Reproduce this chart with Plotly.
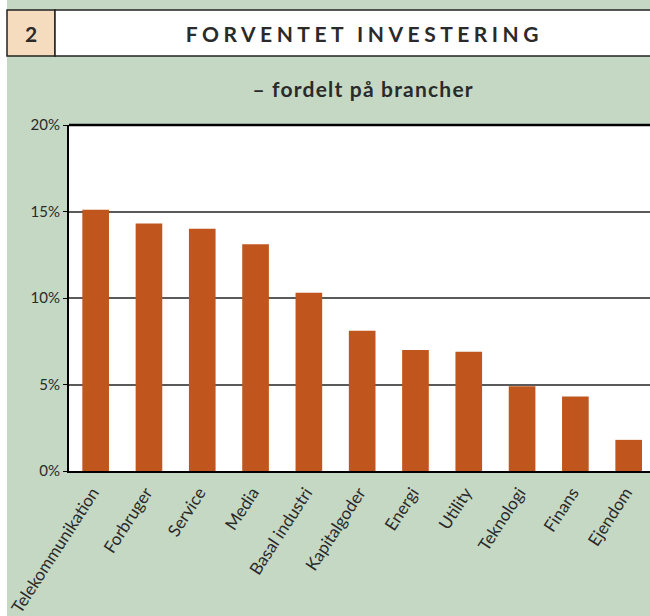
import plotly.graph_objects as go

categories = ["Telekommunikation", "Forbruger", "Service", "Media", "Basal industri",
              "Kapitalgoder", "Energi", "Utility", "Teknologi", "Finans", "Ejendom"]
values = [15.1, 14.3, 14.0, 13.1, 10.3, 8.1, 7.0, 6.9, 4.9, 4.3, 1.8]
y_ticks = [0, 5, 10, 15, 20]
y_ticklabels = ["0%", "5%", "10%", "15%", "20%"]

W, H = 650, 616
L, R, T, B = 69, 650, 125, 471  # plot area in pixels

def px(x):
    return (x - L) / (R - L)

def py(y):
    return (B - y) / (B - T)

FONT = "Lato, 'Open Sans', sans-serif"
GREEN = "#c5d8c4"

fig = go.Figure(go.Bar(
    x=categories, y=values, width=0.5,
    marker=dict(color="#c0561e", line=dict(width=0)),
))

shapes = [
    dict(type="rect", xref="paper", yref="paper", x0=px(-5), x1=px(7), y0=py(H + 5), y1=py(-5),
         fillcolor="white", line=dict(width=0), layer="below"),
    dict(type="rect", xref="paper", yref="paper", x0=px(7), x1=px(55), y0=py(56), y1=py(10),
         fillcolor="#f6dcbf", line=dict(color="#222", width=1.5)),
    dict(type="rect", xref="paper", yref="paper", x0=px(55), x1=px(660), y0=py(56), y1=py(10),
         fillcolor="white", line=dict(color="#222", width=1.5)),
    dict(type="line", xref="paper", yref="paper", x0=0, x1=1, y0=1, y1=1,
         line=dict(color="black", width=2.5)),
]

annotations = [
    dict(text="<b>2</b>", xref="paper", yref="paper", x=px(31), y=py(33),
         showarrow=False, font=dict(family=FONT, size=21, color="#2a2a2a"),
         xanchor="center", yanchor="middle"),
    dict(text="<b>FORVENTET INVESTERING</b>", xref="paper", yref="paper", x=px(364), y=py(33),
         showarrow=False, font=dict(family=FONT, size=21, color="#2a2a2a"),
         xanchor="center", yanchor="middle"),
    dict(text="<b>– fordelt på brancher</b>", xref="paper", yref="paper", x=px(363), y=py(88),
         showarrow=False, font=dict(family=FONT, size=21, color="#2a2a2a"),
         xanchor="center", yanchor="middle"),
]

fig.update_layout(
    width=W, height=H,
    margin=dict(l=L, r=W - R, t=T, b=H - B, pad=0),
    paper_bgcolor=GREEN, plot_bgcolor="white",
    showlegend=False, bargap=0.5,
    shapes=shapes, annotations=annotations,
    font=dict(family=FONT, color="#2a2a2a"),
)
fig.update_xaxes(
    range=[-0.5, 10.4], showgrid=False, showline=True, linecolor="black", linewidth=2,
    tickangle=-57, tickfont=dict(size=17, family=FONT, color="#2a2a2a"), ticks="",
    ticklabelshift=-3, ticklabelstandoff=3,
)
fig.update_yaxes(
    range=[0, 20], tickvals=y_ticks, ticktext=y_ticklabels,
    showgrid=True, gridcolor="#5a5a5a", gridwidth=1.5,
    showline=True, linecolor="black", linewidth=2, zeroline=False,
    ticks="outside", ticklen=4, tickcolor="black",
    tickfont=dict(size=15, family=FONT, color="#2a2a2a"),
)

post = """
document.body.style.margin = '0';
document.body.style.overflow = 'hidden';
document.querySelectorAll('.annotation-text').forEach(function(t){
  var s = t.textContent;
  if (s.indexOf('FORVENTET') >= 0) { t.style.letterSpacing = '4.5px'; }
  else if (s.indexOf('fordelt') >= 0) { t.style.letterSpacing = '1.2px'; }
});
"""

fig.write_html("out.html", post_script=post, config={"displayModeBar": False})
